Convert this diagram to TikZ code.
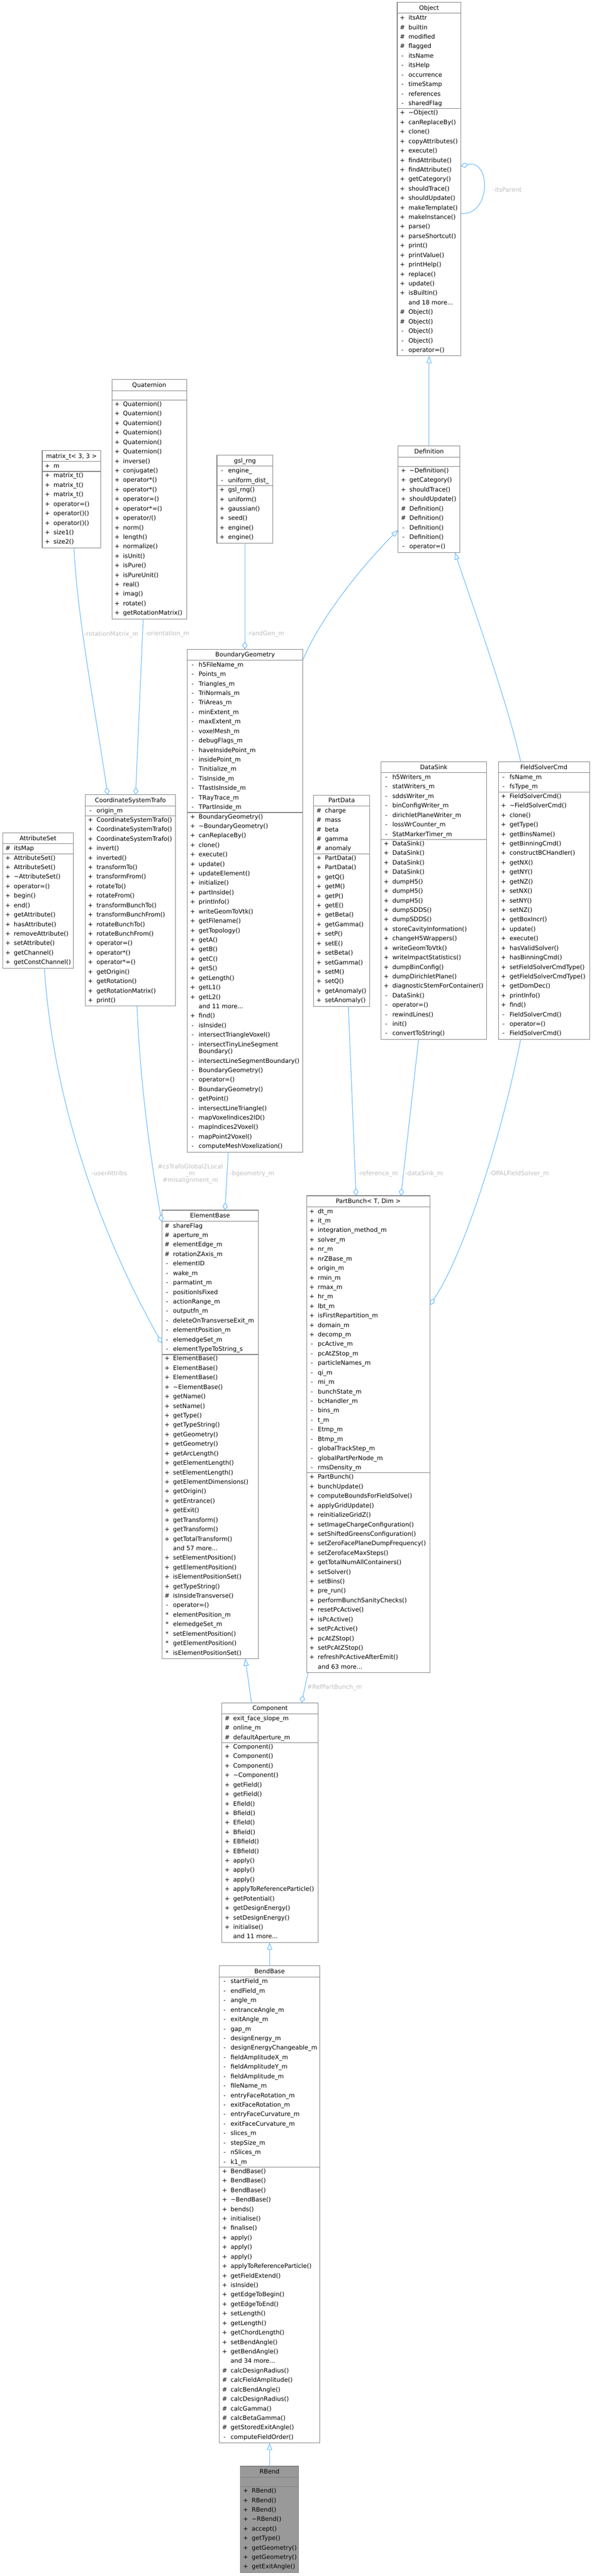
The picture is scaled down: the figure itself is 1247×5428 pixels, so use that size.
\documentclass[tikz,border=0pt]{standalone}
\usepackage{fontspec}
\setmainfont{DejaVu Sans}
\usetikzlibrary{arrows.meta}
\definecolor{boxgray}{HTML}{808080}
\definecolor{linkblue}{HTML}{63B8FF}
\definecolor{lblgray}{HTML}{BEBEBE}
\definecolor{curfill}{HTML}{999999}
\newcommand\rowfont{\fontsize{12.8}{14}\selectfont}
\def\pfp{+}\def\pfh{\#}\def\pfm{-}\def\pfs{*}\def\pfn{}\def\pfc{}
\def\tdots{...}
\tikzset{
 boxline/.style={draw=boxgray, line width=1.2pt},
 rowtxt/.style={anchor=base west, inner sep=0pt, font=\rowfont},
 pfxtxt/.style={anchor=base, inner sep=0pt, font=\rowfont},
 ttltxt/.style={anchor=base, inner sep=0pt, font=\rowfont},
 lbl/.style={anchor=base west, inner sep=0pt, font=\rowfont, text=lblgray},
 lblc/.style={anchor=base, inner sep=0pt, font=\rowfont, text=lblgray},
 agg/.style={draw=linkblue, line width=1.2pt, -{Diamond[length=16pt,width=11pt,fill=white]}},
 gen/.style={draw=linkblue, line width=1.2pt, -{Triangle[length=15pt,width=11pt,fill=white]}},
}
\makeatletter
\newcommand\cbrow{%
  \if c\p \pgfmathsetmacro\cbY{\cbY+14.6}\else\pgfmathsetmacro\cbY{\cbY+20}\fi
  \global\let\cbY\cbY
  \node[pfxtxt] at (\cbL+11,\cbY+4.5) {\csname pf\p\endcsname};
  \node[rowtxt] at (\cbL+23.5,\cbY+4.5) {\t};
}
\newcommand\cbox[7]{%
  \pgfmathsetmacro\cbL{#3}\pgfmathsetmacro\cbR{#4}\pgfmathsetmacro\cbT{#5}%
  \pgfmathsetmacro\cbH{\cbT+23}%
  \def\cb@a{#6}%
  \ifx\cb@a\@empty
    \pgfmathsetmacro\cbS{\cbH+20}%
  \else
    \pgfmathsetmacro\cbY{\cbH+9.5-20}\global\let\cbY\cbY
    \foreach \p/\t in {#6} {\cbrow}%
    \pgfmathsetmacro\cbS{\cbY+11.5}%
  \fi
  \pgfmathsetmacro\cbY{\cbS+8.5-20}\global\let\cbY\cbY
  \foreach \p/\t in {#7} {\cbrow}%
  \pgfmathsetmacro\cbB{\cbY+12.5}%
  \node[ttltxt] at ({(\cbL+\cbR)/2},\cbT+16) {#2};
  \draw[boxline] (\cbL,\cbH) -- (\cbR,\cbH) (\cbL,\cbS) -- (\cbR,\cbS);
  \draw[boxline] (\cbL,\cbT) rectangle (\cbR,\cbB);
  \node[inner sep=0pt, outer sep=0pt, minimum width={(\cbR-\cbL)*1pt}, minimum height={(\cbB-\cbT)*1pt}, anchor=north west] (#1) at (\cbL,\cbT) {};
}
\makeatother
\begin{document}
\begin{tikzpicture}[x=1pt,y=-1pt]
\useasboundingbox (0,0) rectangle (1247,5428);
\fill[curfill] (506.7,5196.7) rectangle (629.3,5421);
% ---------------- Object
\cbox{Object}{Object}{837}{971}{5}{p/itsAttr,h/builtin,h/modified,h/flagged,m/itsName,m/itsHelp,m/occurrence,m/timeStamp,m/references,m/sharedFlag}{p/\textasciitilde Object(),p/canReplaceBy(),p/clone(),p/copyAttributes(),p/execute(),p/findAttribute(),p/findAttribute(),p/getCategory(),p/shouldTrace(),p/shouldUpdate(),p/makeTemplate(),p/makeInstance(),p/parse(),p/parseShortcut(),p/print(),p/printValue(),p/printHelp(),p/replace(),p/update(),p/isBuiltin(),n/and 18 more\tdots,h/Object(),h/Object(),m/Object(),m/Object(),m/operator=()}
% ---------------- Definition
\cbox{Definition}{Definition}{839}{969}{940}{}{p/\textasciitilde Definition(),p/getCategory(),p/shouldTrace(),p/shouldUpdate(),h/Definition(),h/Definition(),m/Definition(),m/Definition(),m/operator=()}
% ---------------- Quaternion
\cbox{Quaternion}{Quaternion}{235.7}{393.3}{800}{}{p/Quaternion(),p/Quaternion(),p/Quaternion(),p/Quaternion(),p/Quaternion(),p/Quaternion(),p/inverse(),p/conjugate(),p/operator*(),p/operator*(),p/operator=(),p/operator*=(),p/{operator/()},p/norm(),p/length(),p/normalize(),p/isUnit(),p/isPure(),p/isPureUnit(),p/real(),p/imag(),p/rotate(),p/getRotationMatrix()}
% ---------------- matrix_t
\cbox{matrix}{matrix\_t< 3, 3 >}{89}{212}{949.3}{p/m}{p/matrix\_t(),p/matrix\_t(),p/matrix\_t(),p/operator=(),p/operator()(),p/operator()(),p/size1(),p/size2()}
% ---------------- gsl_rng
\cbox{gslrng}{gsl\_rng}{457}{575}{959.3}{m/engine\_,m/uniform\_dist\_}{p/gsl\_rng(),p/uniform(),p/gaussian(),p/seed(),p/engine(),p/engine()}
% ---------------- BoundaryGeometry
\cbox{BoundaryGeometry}{BoundaryGeometry}{395}{638}{1368}{m/h5FileName\_m,m/Points\_m,m/Triangles\_m,m/TriNormals\_m,m/TriAreas\_m,m/minExtent\_m,m/maxExtent\_m,m/voxelMesh\_m,m/debugFlags\_m,m/haveInsidePoint\_m,m/insidePoint\_m,m/Tinitialize\_m,m/TisInside\_m,m/TfastIsInside\_m,m/TRayTrace\_m,m/TPartInside\_m}{p/BoundaryGeometry(),p/\textasciitilde BoundaryGeometry(),p/canReplaceBy(),p/clone(),p/execute(),p/update(),p/updateElement(),p/initialize(),p/partInside(),p/printInfo(),p/writeGeomToVtk(),p/getFilename(),p/getTopology(),p/getA(),p/getB(),p/getC(),p/getS(),p/getLength(),p/getL1(),p/getL2(),n/and 11 more\tdots,p/find(),m/isInside(),m/intersectTriangleVoxel(),m/intersectTinyLineSegment,c/Boundary(),m/intersectLineSegmentBoundary(),m/BoundaryGeometry(),m/operator=(),m/BoundaryGeometry(),m/getPoint(),m/intersectLineTriangle(),m/mapVoxelIndices2ID(),m/mapIndices2Voxel(),m/mapPoint2Voxel(),m/computeMeshVoxelization()}
% ---------------- AttributeSet
\cbox{AttributeSet}{AttributeSet}{5.6}{154.5}{1755}{h/itsMap}{p/AttributeSet(),p/AttributeSet(),p/\textasciitilde AttributeSet(),p/operator=(),p/begin(),p/end(),p/getAttribute(),p/hasAttribute(),p/removeAttribute(),p/setAttribute(),p/getChannel(),p/getConstChannel()}
% ---------------- CoordinateSystemTrafo
\cbox{CST}{CoordinateSystemTrafo}{179.7}{370}{1675}{m/origin\_m}{p/CoordinateSystemTrafo(),p/CoordinateSystemTrafo(),p/CoordinateSystemTrafo(),p/invert(),p/inverted(),p/transformTo(),p/transformFrom(),p/rotateTo(),p/rotateFrom(),p/transformBunchTo(),p/transformBunchFrom(),p/rotateBunchTo(),p/rotateBunchFrom(),p/operator=(),p/operator*(),p/operator*=(),p/getOrigin(),p/getRotation(),p/getRotationMatrix(),p/print()}
% ---------------- PartData
\cbox{PartData}{PartData}{661}{778.5}{1675.3}{h/charge,h/mass,h/beta,h/gamma,h/anomaly}{p/PartData(),p/PartData(),p/getQ(),p/getM(),p/getP(),p/getE(),p/getBeta(),p/getGamma(),p/setP(),p/setE(),p/setBeta(),p/setGamma(),p/setM(),p/setQ(),p/getAnomaly(),p/setAnomaly()}
% ---------------- DataSink
\cbox{DataSink}{DataSink}{803}{1025}{1605}{m/h5Writers\_m,m/statWriters\_m,m/sddsWriter\_m,m/binConfigWriter\_m,m/dirichletPlaneWriter\_m,m/lossWrCounter\_m,m/StatMarkerTimer\_m}{p/DataSink(),p/DataSink(),p/DataSink(),p/DataSink(),p/dumpH5(),p/dumpH5(),p/dumpH5(),p/dumpSDDS(),p/dumpSDDS(),p/storeCavityInformation(),p/changeH5Wrappers(),p/writeGeomToVtk(),p/writeImpactStatistics(),p/dumpBinConfig(),p/dumpDirichletPlane(),p/diagnosticStemForContainer(),m/DataSink(),m/operator=(),m/rewindLines(),m/init(),m/convertToString()}
% ---------------- FieldSolverCmd
\cbox{FieldSolverCmd}{FieldSolverCmd}{1050}{1242}{1605}{m/fsName\_m,m/fsType\_m}{p/FieldSolverCmd(),p/\textasciitilde FieldSolverCmd(),p/clone(),p/getType(),p/getBinsName(),p/getBinningCmd(),p/constructBCHandler(),p/getNX(),p/getNY(),p/getNZ(),p/setNX(),p/setNY(),p/setNZ(),p/getBoxIncr(),p/update(),p/execute(),p/hasValidSolver(),p/hasBinningCmd(),p/setFieldSolverCmdType(),p/getFieldSolverCmdType(),p/getDomDec(),p/printInfo(),p/find(),m/FieldSolverCmd(),m/operator=(),m/FieldSolverCmd()}
% ---------------- PartBunch
\cbox{PartBunch}{PartBunch< T, Dim >}{646}{906}{2519.6}{p/dt\_m,p/it\_m,p/integration\_method\_m,p/solver\_m,p/nr\_m,p/nrZBase\_m,p/origin\_m,p/rmin\_m,p/rmax\_m,p/hr\_m,p/lbt\_m,p/isFirstRepartition\_m,p/domain\_m,p/decomp\_m,m/pcActive\_m,m/pcAtZStop\_m,m/particleNames\_m,m/qi\_m,m/mi\_m,m/bunchState\_m,m/bcHandler\_m,m/bins\_m,m/t\_m,m/Etmp\_m,m/Btmp\_m,m/globalTrackStep\_m,m/globalPartPerNode\_m,m/rmsDensity\_m}{p/PartBunch(),p/bunchUpdate(),p/computeBoundsForFieldSolve(),p/applyGridUpdate(),p/reinitializeGridZ(),p/setImageChargeConfiguration(),p/setShiftedGreensConfiguration(),p/setZeroFacePlaneDumpFrequency(),p/setZerofaceMaxSteps(),p/getTotalNumAllContainers(),p/setSolver(),p/setBins(),p/pre\_run(),p/performBunchSanityChecks(),p/resetPcActive(),p/isPcActive(),p/setPcActive(),p/pcAtZStop(),p/setPcAtZStop(),p/refreshPcActiveAfterEmit(),n/and 63 more\tdots}
% ---------------- ElementBase
\cbox{ElementBase}{ElementBase}{341}{544}{2550}{h/shareFlag,h/aperture\_m,h/elementEdge\_m,h/rotationZAxis\_m,m/elementID,m/wake\_m,m/parmatint\_m,m/positionIsFixed,m/actionRange\_m,m/outputfn\_m,m/deleteOnTransverseExit\_m,m/elementPosition\_m,m/elemedgeSet\_m,m/elementTypeToString\_s}{p/ElementBase(),p/ElementBase(),p/ElementBase(),p/\textasciitilde ElementBase(),p/getName(),p/setName(),p/getType(),p/getTypeString(),p/getGeometry(),p/getGeometry(),p/getArcLength(),p/getElementLength(),p/setElementLength(),p/getElementDimensions(),p/getOrigin(),p/getEntrance(),p/getExit(),p/getTransform(),p/getTransform(),p/getTotalTransform(),n/and 57 more\tdots,p/setElementPosition(),p/getElementPosition(),p/isElementPositionSet(),p/getTypeString(),h/isInsideTransverse(),m/operator=(),s/elementPosition\_m,s/elemedgeSet\_m,s/setElementPosition(),s/getElementPosition(),s/isElementPositionSet()}
% ---------------- Component
\cbox{Component}{Component}{467.7}{670.5}{3588}{h/exit\_face\_slope\_m,h/online\_m,h/defaultAperture\_m}{p/Component(),p/Component(),p/Component(),p/\textasciitilde Component(),p/getField(),p/getField(),p/Efield(),p/Bfield(),p/Efield(),p/Bfield(),p/EBfield(),p/EBfield(),p/apply(),p/apply(),p/apply(),p/applyToReferenceParticle(),p/getPotential(),p/getDesignEnergy(),p/setDesignEnergy(),p/initialise(),n/and 11 more\tdots}
% ---------------- BendBase
\cbox{BendBase}{BendBase}{462.3}{674}{4142.5}{m/startField\_m,m/endField\_m,m/angle\_m,m/entranceAngle\_m,m/exitAngle\_m,m/gap\_m,m/designEnergy\_m,m/designEnergyChangeable\_m,m/fieldAmplitudeX\_m,m/fieldAmplitudeY\_m,m/fieldAmplitude\_m,m/fileName\_m,m/entryFaceRotation\_m,m/exitFaceRotation\_m,m/entryFaceCurvature\_m,m/exitFaceCurvature\_m,m/slices\_m,m/stepSize\_m,m/nSlices\_m,m/k1\_m}{p/BendBase(),p/BendBase(),p/BendBase(),p/\textasciitilde BendBase(),p/bends(),p/initialise(),p/finalise(),p/apply(),p/apply(),p/apply(),p/applyToReferenceParticle(),p/getFieldExtend(),p/isInside(),p/getEdgeToBegin(),p/getEdgeToEnd(),p/setLength(),p/getLength(),p/getChordLength(),p/setBendAngle(),p/getBendAngle(),n/and 34 more\tdots,h/calcDesignRadius(),h/calcFieldAmplitude(),h/calcBendAngle(),h/calcDesignRadius(),h/calcGamma(),h/calcBetaGamma(),h/getStoredExitAngle(),m/computeFieldOrder()}
% ---------------- RBend
\cbox{RBend}{RBend}{506.7}{629.3}{5196.7}{}{p/RBend(),p/RBend(),p/RBend(),p/\textasciitilde RBend(),p/accept(),p/getType(),p/getGeometry(),p/getGeometry(),p/getExitAngle()}
% ================= connectors
\draw[agg] ([yshift=-445pt]Object.north east) .. controls (1035,455) and (1035,335) .. ([yshift=-345pt]Object.north east);
\node[lbl] (lparent) at (1038,404.5) {-itsParent};
\draw[gen] (Definition.north) -- (Object.south);
\draw[gen] ([yshift=-23pt]BoundaryGeometry.north east) .. controls (680,1290) and (780,1175) .. ([yshift=-176.7pt]Definition.north west);
\draw[gen] ([xshift=47pt]FieldSolverCmd.north west) .. controls (1070,1480) and (990,1260) .. ([xshift=119.6pt]Definition.south west);
\draw[agg] (gslrng.south) -- (gslrng.south |- BoundaryGeometry.north);
\node[lbl] (lrand) at (520,1339.5) {-randGen\_m};
\draw[agg] ([xshift=66pt]Quaternion.south west) -- ([xshift=106pt]CST.north west);
\node[lbl] (lorient) at (305,1339.5) {-orientation\_m};
\draw[agg] ([xshift=67pt]matrix.south west) .. controls (162,1300) and (205,1520) .. ([xshift=47pt]CST.north west);
\node[lbl] (lrotm) at (177,1340) {-rotationMatrix\_m};
\draw[agg] ([xshift=88pt]AttributeSet.south west) .. controls (110,2300) and (200,2580) .. ([yshift=-280pt]ElementBase.north west);
\node[lbl] (luser) at (193,2476.5) {-userAttribs};
\draw[agg] ([xshift=109pt]CST.south west) .. controls (295,2280) and (318,2450) .. ([yshift=-24.5pt]ElementBase.north west);
\node[lblc] (lcs1) at (401,2462.5) {\#csTrafoGlobal2Local};
\node[lblc] (lcs2) at (401,2476.5) {\_m};
\node[lblc] (lcs3) at (401,2491) {\#misalignment\_m};
\draw[agg] ([xshift=86pt]BoundaryGeometry.south west) -- ([xshift=133pt]ElementBase.north west);
\node[lbl] (lbgeo) at (484,2476.5) {-bgeometry\_m};
\draw[agg] ([xshift=73pt]PartData.south west) -- ([xshift=104.2pt]PartBunch.north west);
\node[lbl] (lref) at (754,2476.5) {-reference\_m};
\draw[agg] ([xshift=79pt]DataSink.south west) -- ([xshift=198.8pt]PartBunch.north west);
\node[lbl] (ldata) at (853.6,2476.5) {-dataSink\_m};
\draw[agg] ([xshift=47pt]FieldSolverCmd.south west) .. controls (1060,2380) and (980,2640) .. ([yshift=-230pt]PartBunch.north east);
\node[lbl] (lfs) at (1030,2476.3) {-OPALFieldSolver\_m};
\draw[agg] ([xshift=3pt]PartBunch.south west) -- ([xshift=167.7pt]Component.north west);
\node[lbl] (lrefpb) at (647,3559.2) {\#RefPartBunch\_m};
\draw[gen] ([xshift=62.3pt]Component.north west) -- ([xshift=175.7pt]ElementBase.south west);
\draw[gen] (BendBase.north) -- (BendBase.north |- Component.south);
\draw[gen] (RBend.north) -- (RBend.north |- BendBase.south);
\end{tikzpicture}
\end{document}
